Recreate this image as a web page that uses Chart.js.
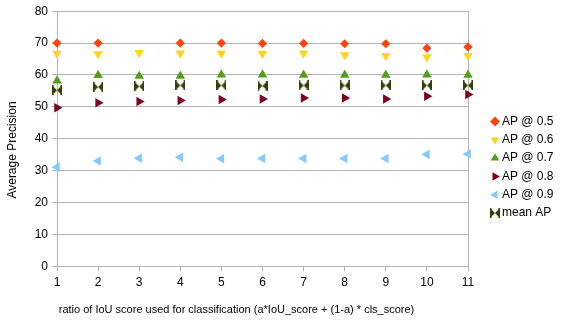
<!DOCTYPE html>
<html><head><meta charset="utf-8">
<script src="https://cdn.jsdelivr.net/npm/chart.js@4/dist/chart.umd.min.js"></script>
<style>html,body{margin:0;padding:0;background:#fff}#wrap{width:564px;height:324px}</style>
</head><body><div id="wrap"><canvas id="c" width="564" height="324"></canvas></div>
<script>
const ratios = [1,2,3,4,5,6,7,8,9,10,11];
const seriesNames = ["AP @ 0.5","AP @ 0.6","AP @ 0.7","AP @ 0.8","AP @ 0.9","mean AP"];
const ap05 = [70.0,70.0,null,70.0,70.0,69.9,69.9,69.8,69.8,68.4,68.8];
const ap06 = [66.7,66.6,67.0,66.8,66.7,66.7,66.8,66.3,66.0,65.6,66.0];
const ap07 = [58.2,59.9,59.7,59.7,60.1,60.1,60.0,60.0,60.0,60.1,60.0];
const ap08 = [49.7,51.3,51.7,52.0,52.3,52.5,52.8,52.8,52.5,53.3,53.9];
const ap09 = [31.1,33.0,33.9,34.2,33.7,33.8,33.8,33.8,33.8,35.1,35.2];
const meanAP = [55.2,56.2,56.4,56.7,56.7,56.6,56.7,56.7,56.7,56.7,56.7];
const yTicks = [0,10,20,30,40,50,60,70,80];
const xTitle = 'ratio of IoU score used for classification (a*IoU_score + (1-a) * cls_score)';
const yTitle = 'Average Precision';

function bowtie(size,color){
  const c=document.createElement('canvas');c.width=size;c.height=size;
  const g=c.getContext('2d');g.fillStyle=color;
  g.beginPath();g.moveTo(0,0);g.lineTo(size/2,size/2);g.lineTo(0,size);g.closePath();g.fill();
  g.beginPath();g.moveTo(size,0);g.lineTo(size/2,size/2);g.lineTo(size,size);g.closePath();g.fill();
  g.fillRect(0,0,1.5,size);g.fillRect(size-1.5,0,1.5,size);
  return c;
}
const pts = a => ratios.map((x,i)=>({x:x,y:a[i]}));
const mk = (label,data,color,style,rot,r)=>({label,data:pts(data),backgroundColor:color,borderColor:color,pointStyle:style,rotation:rot,pointRadius:r,pointHoverRadius:r,borderWidth:0,showLine:false,clip:false});
const ds = [
  mk(seriesNames[0],ap05,'#ff420e','rectRot',0,4.6),
  mk(seriesNames[1],ap06,'#ffd320','triangle',180,5.5),
  mk(seriesNames[2],ap07,'#579d1c','triangle',0,5.5),
  mk(seriesNames[3],ap08,'#7e0021','triangle',90,5.5),
  mk(seriesNames[4],ap09,'#83caff','triangle',270,5.5),
  mk(seriesNames[5],meanAP,'#314004',bowtie(10,'#314004'),0,5)
];
const FAM = '"Liberation Sans", Arial, sans-serif';
const font = {family:FAM,size:12};
new Chart(document.getElementById('c'),{
  type:'scatter',
  data:{datasets:ds},
  options:{
    responsive:false,animation:false,
    layout:{padding:{top:4.6,right:0,left:0,bottom:0}},
    plugins:{
      legend:{position:'right',labels:{usePointStyle:true,boxWidth:2,boxHeight:7,color:'#000',font:font,padding:6.3}},
      tooltip:{enabled:false}
    },
    scales:{
      x:{type:'linear',min:1,max:11,
        ticks:{stepSize:1,color:'#000',font:font,padding:4},
        grid:{display:true,drawOnChartArea:true,tickLength:5,tickColor:'#b3b3b3',
          color:c=>(c.tick && c.tick.value===11)?'#b3b3b3':'rgba(0,0,0,0)'},
        border:{color:'#b3b3b3'},
        afterFit:s=>{s.height=57.7;}
      },
      y:{min:0,max:80,
        afterBuildTicks:s=>{s.ticks=yTicks.map(v=>({value:v}));},
        ticks:{color:'#000',font:font,padding:4},
        grid:{color:'#b3b3b3',tickLength:5},
        border:{color:'#b3b3b3'},
        afterFit:s=>{s.width=57;}
      }
    }
  },
  plugins:[{id:'custom',
    beforeDraw:(ch)=>{const c=ch.ctx;c.save();c.fillStyle='#fff';c.fillRect(0,0,ch.width,ch.height);c.restore();},
    beforeLayout:(ch)=>{const lg=ch.legend; if(lg && !lg._wrapped){const f=lg.fit.bind(lg); lg.fit=function(){f(); this.width=96;}; lg._wrapped=true;}},
    afterLayout:(ch)=>{const lg=ch.legend; const dx=487.7-lg.left; lg.left+=dx; lg.right+=dx; lg.top+=6;},
    afterDraw:(ch)=>{const c=ch.ctx;c.save();c.fillStyle='#000';
      c.font='11px '+FAM;c.textAlign='center';c.textBaseline='middle';
      c.fillText(xTitle,236.5,310);
      c.translate(13,150);c.rotate(-Math.PI/2);c.font='12px '+FAM;
      c.fillText(yTitle,0,0);c.restore();}
  }]
});
</script></body></html>
